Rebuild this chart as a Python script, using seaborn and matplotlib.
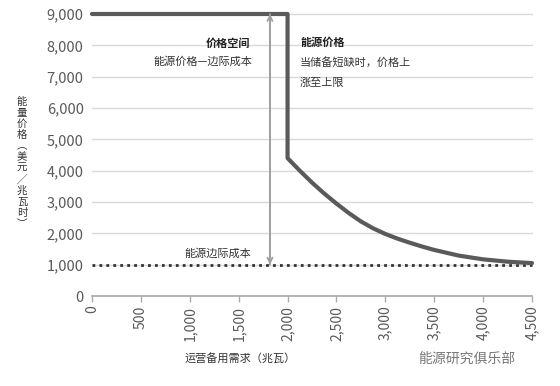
import matplotlib
matplotlib.use("Agg")
import matplotlib.pyplot as plt
import seaborn as sns
import pandas as pd

# Data
demand = [0, 2000, 2000, 2125, 2250, 2375, 2500, 2625, 2750, 2875, 3000, 3125,
          3250, 3375, 3500, 3750, 4000, 4250, 4500]
price = [9000, 9000, 4400, 4000, 3620, 3270, 2950, 2650, 2380, 2160, 1980, 1830,
         1700, 1580, 1470, 1290, 1170, 1095, 1050]
marginal_x = [0, 4500]
marginal_y = [1000, 1000]
arrow_x = 1820
arrow_y = [1000, 9000]
xticks = [0, 500, 1000, 1500, 2000, 2500, 3000, 3500, 4000, 4500]
yticks = [0, 1000, 2000, 3000, 4000, 5000, 6000, 7000, 8000, 9000]

sns.set_theme(style="white")
plt.rcParams['font.family'] = ['Noto Sans CJK SC', 'DejaVu Sans']

fig = plt.figure(figsize=(5.6, 3.86), dpi=100)
ax = fig.add_axes([92/560, 1-296/386, 440/560, 282/386])

df = pd.DataFrame({"x": demand, "y": price})
ax.set_xlim(0, 4500)
ax.set_ylim(0, 9000)
for t in yticks[1:]:
    ax.axhline(t, color="#d9d9d9", lw=1, zorder=0)

sns.lineplot(data=pd.DataFrame({"x": marginal_x, "y": marginal_y}), x="x", y="y",
             ax=ax, color="#333333", lw=2, linestyle=(0, (1, 1.5)), sort=False)
sns.lineplot(data=df, x="x", y="y", ax=ax, color="#5a5a5a", lw=3, sort=False,
             estimator=None)
for l in ax.lines:
    l.set_clip_on(False)
    l.set_solid_joinstyle("round")

ax.annotate("", xy=(arrow_x, arrow_y[1]), xytext=(arrow_x, arrow_y[0]),
            arrowprops=dict(arrowstyle="->", color="#a0a0a0", lw=1.3,
                            shrinkA=0, shrinkB=0, mutation_scale=9))
ax.annotate("", xy=(arrow_x, arrow_y[0]), xytext=(arrow_x, arrow_y[1]),
            arrowprops=dict(arrowstyle="->", color="#a0a0a0", lw=1.3,
                            shrinkA=0, shrinkB=0, mutation_scale=9))

ax.set_xticks(xticks)
ax.set_xticklabels([f"{v:,}" for v in xticks], rotation=90, fontsize=10, color="#595959")
ax.set_yticks(yticks)
ax.set_yticklabels([f"{v:,}" for v in yticks], fontsize=10.5, color="#595959")
ax.tick_params(axis="x", length=4, color="#aaaaaa", width=1, pad=3, bottom=True)
ax.tick_params(axis="y", length=0, pad=6)
for s in ["top", "right", "left"]:
    ax.spines[s].set_visible(False)
ax.spines["bottom"].set_color("#aaaaaa")
ax.set_xlabel("")
ax.set_ylabel("")

fig.text(250/560, 1-43/386, "价格空间", ha="right", va="center", fontsize=8, fontweight="bold", color="#222222")
fig.text(252/560, 1-62/386, "能源价格—边际成本", ha="right", va="center", fontsize=8, color="#333333")
fig.text(300/560, 1-42/386, "能源价格", ha="left", va="center", fontsize=8, fontweight="bold", color="#222222")
fig.text(300/560, 1-62/386, "当储备短缺时，价格上", ha="left", va="center", fontsize=8, color="#333333")
fig.text(300/560, 1-83/386, "涨至上限", ha="left", va="center", fontsize=8, color="#333333")
fig.text(184/560, 1-254/386, "能源边际成本", ha="left", va="center", fontsize=8, color="#333333")

ylab = "能量价格（美元/兆瓦时）"
ylab_v = "\n".join(["︵" if c == "（" else "︶" if c == "）" else "╱" if c == "/" else c for c in ylab])
fig.text(22/560, 1-163/386, ylab_v, ha="center", va="center", fontsize=7.5,
         color="#333333", linespacing=1.12)
fig.text(240/560, 1-358/386, "运营备用需求（兆瓦）", ha="center", va="center", fontsize=8, color="#333333")
fig.text(418/560, 1-359/386, "能源研究俱乐部", ha="left", va="center", fontsize=10, color="#777777")

fig.savefig("out.png", dpi=100)
